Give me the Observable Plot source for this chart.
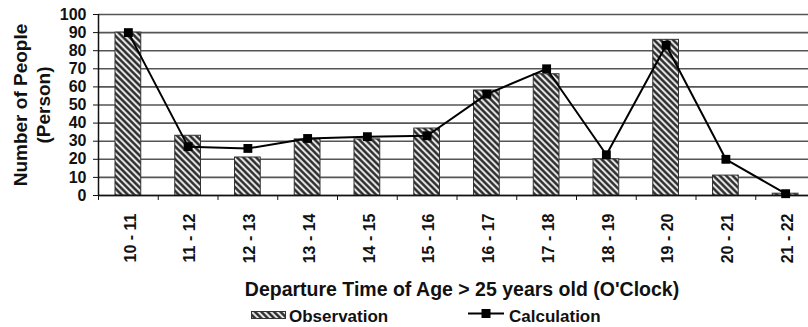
<!DOCTYPE html>
<html><head><meta charset="utf-8">
<script src="https://cdn.jsdelivr.net/npm/d3@7"></script>
<script src="https://cdn.jsdelivr.net/npm/@observablehq/plot@0.6"></script>
<style>
html,body{margin:0;padding:0;background:#fff;overflow:hidden;}
#chart svg{max-width:none !important;display:block;}
.legend{position:relative;width:808px;height:27px;font:bold 17px "Liberation Sans",Arial,sans-serif;color:#111;line-height:17px;}
.legend span,.legend svg{position:absolute;}
</style></head><body>
<div id="chart"></div>
<div class="legend" id="legend"></div>
<script>
const categories = ["10 - 11","11 - 12","12 - 13","13 - 14","14 - 15","15 - 16","16 - 17","17 - 18","18 - 19","19 - 20","20 - 21","21 - 22"];
const observation = [90, 33, 21, 31, 31, 37, 58, 67, 20, 86, 11, 1];
const calculation = [90, 27, 26, 31.5, 32.5, 33, 56, 70, 22.5, 83, 20, 1];
const yTicks = [0,10,20,30,40,50,60,70,80,90,100];
const xTitle = "Departure Time of Age > 25 years old (O'Clock)";
const yTitle = "Number of People\n(Person)";
const legendLabels = ["Observation","Calculation"];

const rows = categories.map((c,i)=>({i, c, obs: observation[i], calc: calculation[i]}));
const font = "Liberation Sans, Arial, sans-serif";

const plot = Plot.plot({
  width: 815, height: 300, marginLeft: 98, marginRight: 0, marginTop: 14, marginBottom: 105,
  style: {fontFamily: font, fontWeight: "bold", fontSize: "16px", color: "#111", background: "white", overflow: "visible"},
  x: {type: "linear", domain: [0, categories.length]},
  y: {domain: [0, 100]},
  marks: [
    Plot.gridY(yTicks, {stroke: "#555", strokeOpacity: 1, strokeWidth: 1.6}),
    Plot.rect(rows, {x1: d => d.i, x2: d => d.i + 1, y1: 0, y2: "obs", insetLeft: 17, insetRight: 17, fill: "url(#hatch)", stroke: "#333", strokeWidth: 1}),
    Plot.ruleY([0], {stroke: "#111", strokeWidth: 1.5}),
    Plot.ruleX([0], {stroke: "#111", strokeWidth: 1.5}),
    Plot.axisY({ticks: yTicks, tickSize: 5, tickPadding: 7, label: null, fontSize: 16, fontWeight: "bold", stroke: "#111"}),
    Plot.axisX({ticks: d3.range(categories.length + 1), tickSize: 5, tickFormat: () => "", label: null, stroke: "#111"}),
    Plot.text(rows, {x: d => d.i + 0.5, text: "c", frameAnchor: "bottom", rotate: -90, textAnchor: "end", lineAnchor: "middle", dy: 18, dx: 2, fontSize: 16, fontWeight: "bold", fill: "#111"}),
    Plot.line(rows, {x: d => d.i + 0.5, y: "calc", stroke: "#000", strokeWidth: 2}),
    Plot.dot(rows, {x: d => d.i + 0.5, y: "calc", symbol: "square", r: 5, fill: "#000", stroke: "none"}),
    Plot.text([xTitle], {frameAnchor: "bottom", dy: 94, dx: 5, fontSize: 19.5, fontWeight: "bold", fill: "#111", lineAnchor: "middle"}),
    Plot.text([yTitle], {frameAnchor: "left", rotate: -90, textAnchor: "middle", dx: -67, fontSize: 19, fontWeight: "bold", fill: "#111", lineHeight: 1.2, lineAnchor: "middle"})
  ]
});
const ns = "http://www.w3.org/2000/svg";
const defs = document.createElementNS(ns, "defs");
defs.innerHTML = '<pattern id="hatch" patternUnits="userSpaceOnUse" width="4.5" height="4.5" patternTransform="rotate(-45)"><rect width="4.5" height="4.5" fill="#e6e6e6"/><line x1="2.25" y1="0" x2="2.25" y2="4.5" stroke="#222" stroke-width="2.3"/></pattern>';
plot.insertBefore(defs, plot.firstChild);
document.getElementById("chart").appendChild(plot);

const lg = document.getElementById("legend");
lg.innerHTML =
  '<svg style="left:251px;top:11px" width="35" height="8"><defs><pattern id="hatch2" patternUnits="userSpaceOnUse" width="4.5" height="4.5" patternTransform="rotate(-45)"><rect width="4.5" height="4.5" fill="#e6e6e6"/><line x1="2.25" y1="0" x2="2.25" y2="4.5" stroke="#222" stroke-width="2.3"/></pattern></defs><rect x="0.5" y="0.5" width="34" height="7" fill="url(#hatch2)" stroke="#333"/></svg>' +
  '<span style="left:289px;top:8px">' + legendLabels[0] + '</span>' +
  '<svg style="left:467px;top:8px" width="38" height="11"><line x1="1" y1="5.5" x2="37" y2="5.5" stroke="#000" stroke-width="2"/><rect x="14.5" y="1" width="9" height="9" fill="#000"/></svg>' +
  '<span style="left:509px;top:8px">' + legendLabels[1] + '</span>';
</script></body></html>
